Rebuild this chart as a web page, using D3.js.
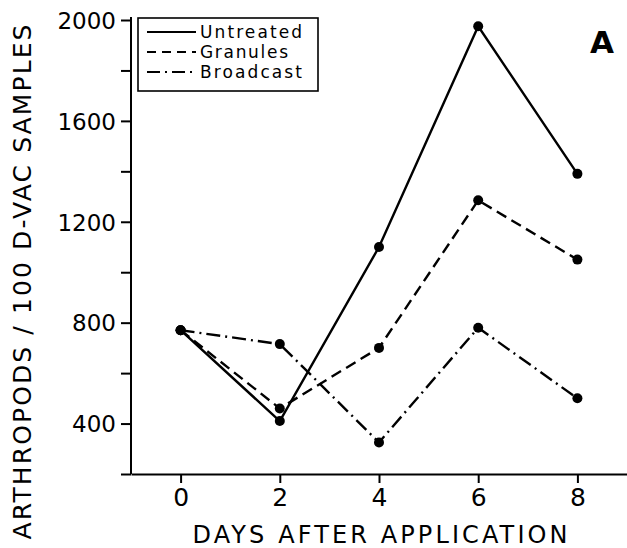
<!DOCTYPE html>
<html>
<head>
<meta charset="utf-8">
<script src="https://cdn.jsdelivr.net/npm/d3@7"></script>
<style>
  body { margin: 0; background: #fff; }
  svg { display: block; }
  text { font-family: "DejaVu Sans", sans-serif; fill: #000; }
</style>
</head>
<body>
<svg id="chart" width="627" height="548"></svg>
<script>
// values
const days = [0, 2, 4, 6, 8]
const untreated = [770, 410, 1100, 1975, 1390]
const granules = [770, 460, 700, 1285, 1050]
const broadcast = [770, 715, 325, 780, 500]

const yTicks = [200, 400, 600, 800, 1000, 1200, 1400, 1600, 1800, 2000]
const yLabels = [400, 800, 1200, 1600, 2000]

const seriesNames = ['Untreated', 'Granules', 'Broadcast']
const dashes = ['none', '11,6', '14,5,2,5']

let svg = d3.select('#chart')

let x = d3.scaleLinear().domain([-1, 9]).range([131, 627])
let y = d3.scaleLinear().domain([200, 2000]).range([474, 20])

// y axis
let yAxis = d3.axisLeft(y)
  .tickValues(yTicks)
  .tickFormat(d => yLabels.includes(d) ? d : '')
  .tickSize(10)
  .tickSizeOuter(0)
  .tickPadding(5)

let gy = svg.append('g')
  .attr('transform', 'translate(' + x(-1) + ',0)')
  .call(yAxis)
gy.select('.domain').attr('stroke-width', 2).attr('d', 'M0,' + y(200) + 'V17')
gy.selectAll('.tick line').attr('stroke-width', 2)
gy.selectAll('.tick text')
  .style('font-size', '23px')
  .style('font-family', '"DejaVu Sans", sans-serif')
  .attr('dy', '0.36em')

// x axis
let xAxis = d3.axisBottom(x)
  .tickValues(days)
  .tickSize(9)
  .tickSizeOuter(0)
  .tickPadding(5)

let gx = svg.append('g')
  .attr('transform', 'translate(0,' + y(200) + ')')
  .call(xAxis)
gx.select('.domain').attr('stroke-width', 2)
gx.selectAll('.tick line').attr('stroke-width', 2)
gx.selectAll('.tick text')
  .style('font-size', '25px')
  .style('font-family', '"DejaVu Sans", sans-serif')

// lines
let line = d3.line()
  .x(d => x(d[0]))
  .y(d => y(d[1]))

let allSeries = [untreated, granules, broadcast]

allSeries.forEach(function (vals, i) {
  let pts = days.map((d, j) => [d, vals[j]])
  svg.append('path')
    .datum(pts)
    .attr('d', line)
    .attr('fill', 'none')
    .attr('stroke', '#000')
    .attr('stroke-width', 2.4)
    .attr('stroke-dasharray', dashes[i])

  svg.append('g').selectAll('circle')
    .data(pts)
    .enter()
    .append('circle')
    .attr('cx', d => x(d[0]))
    .attr('cy', d => y(d[1]))
    .attr('r', 5)
    .attr('fill', '#000')
})

// legend
let legend = svg.append('g')
legend.append('rect')
  .attr('x', 138).attr('y', 18)
  .attr('width', 180).attr('height', 73)
  .attr('fill', '#fff')
  .attr('stroke', '#000')
  .attr('stroke-width', 1.6)

seriesNames.forEach(function (name, i) {
  let ly = 32 + i * 20
  legend.append('line')
    .attr('x1', 147).attr('x2', 196)
    .attr('y1', ly).attr('y2', ly)
    .attr('stroke', '#000')
    .attr('stroke-width', 2)
    .attr('stroke-dasharray', i == 1 ? '9,6' : i == 2 ? '13,5,2,5' : 'none')
  legend.append('text')
    .attr('x', 200).attr('y', ly + 6)
    .attr('textLength', i == 1 ? 88 : 102)
    .attr('lengthAdjust', 'spacing')
    .style('font-size', '17px')
    .text(name)
})

// panel letter
svg.append('text')
  .attr('x', 590).attr('y', 53)
  .style('font-size', '31px')
  .style('font-weight', 'bold')
  .text('A')

// axis titles
svg.append('text')
  .attr('x', 380).attr('y', 543)
  .attr('text-anchor', 'middle')
  .attr('textLength', 375)
  .attr('lengthAdjust', 'spacing')
  .style('font-size', '24px')
  .text('DAYS AFTER APPLICATION')

svg.append('text')
  .attr('transform', 'translate(31,282) rotate(-90)')
  .attr('text-anchor', 'middle')
  .attr('textLength', 515)
  .attr('lengthAdjust', 'spacing')
  .style('font-size', '25px')
  .text('ARTHROPODS / 100 D-VAC SAMPLES')
</script>
</body>
</html>
